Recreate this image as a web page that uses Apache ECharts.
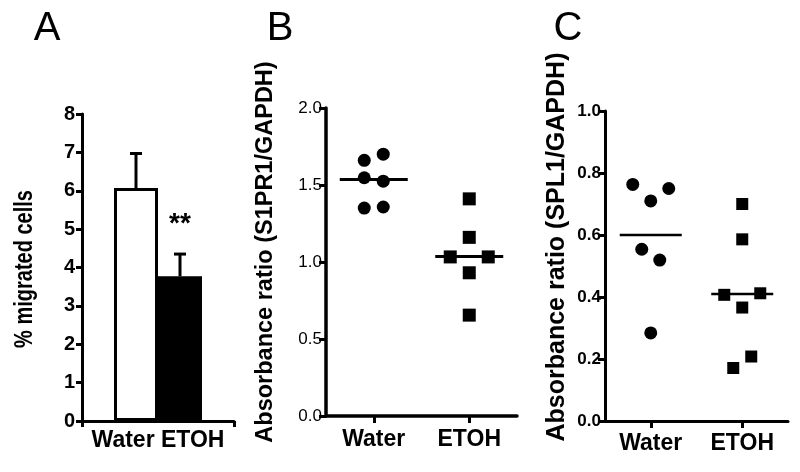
<!DOCTYPE html>
<html>
<head>
<meta charset="utf-8">
<script src="https://cdn.jsdelivr.net/npm/echarts@6/dist/echarts.min.js"></script>
<style>html,body{margin:0;padding:0;background:#fff}#c{width:800px;height:472px}</style>
</head>
<body>
<div id="c"></div>
<script>
// ---- data ----
const categories = ['Water', 'ETOH'];
// Panel A
const meanA = [6.07, 3.77];
const semA = [0.90, 0.58];
const sigA = ['', '**'];
const ticksA = [0, 1, 2, 3, 4, 5, 6, 7, 8];
// Panel B (S1PR1/GAPDH)
const waterB = [1.70, 1.66, 1.547, 1.525, 1.357, 1.35];
const etohB = [1.41, 1.16, 1.033, 1.033, 0.93, 0.655];
const lineB = [1.535, 1.035];
// Panel C (SPL1/GAPDH)
const waterC = [0.763, 0.75, 0.71, 0.554, 0.519, 0.284];
const etohC = [0.70, 0.586, 0.407, 0.412, 0.366, 0.208, 0.171];
const lineC = [0.60, 0.41];
// horizontal spreading of overlapping points (in units of one symbol step)
const spreadWaterB = [1, -1, -1, 1, 1, -1];
const spreadEtohB = [0, 0, -2, 2, 0, 0];
const spreadWaterC = [-2, 2, 0, -1, 1, 0];
const spreadEtohC = [0, 0, -2, 2, 0, 1, -1];

const FONT = '"Liberation Sans", Arial, sans-serif';
const BLACK = '#000';

const chart = echarts.init(document.getElementById('c'), null, {renderer: 'canvas'});

function axisLine(w) { return {show: true, onZero: false, lineStyle: {color: BLACK, width: w, opacity: 1}}; }
function axisTick(len, extra) { return Object.assign({show: true, length: len, lineStyle: {color: BLACK, width: 3, opacity: 1}}, extra || {}); }

const barW = 44;

function pointsData(cat, vals, spread, step) {
  return vals.map((v, i) => ({value: [cat, v], symbolOffset: [spread[i] * step, 0]}));
}

function meanLineSeries(idx, vals, hw, lw) {
  return {
    type: 'custom', xAxisIndex: idx, yAxisIndex: idx, silent: true, z: 5,
    data: vals.map((v, i) => [i, v]),
    renderItem: function (params, api) {
      const p = api.coord([api.value(0), api.value(1)]);
      return {type: 'line', shape: {x1: p[0] - hw, y1: p[1], x2: p[0] + hw, y2: p[1]},
        style: {stroke: BLACK, lineWidth: lw}};
    }
  };
}

function scatter(idx, cat, vals, spread, step, symbol, size) {
  return {type: 'scatter', xAxisIndex: idx, yAxisIndex: idx, symbol: symbol, symbolSize: size, z: 4,
    itemStyle: {color: BLACK, opacity: 1}, data: pointsData(cat, vals, spread, step)};
}

const option = {
  backgroundColor: '#fff',
  animation: false,
  grid: [
    {left: 82, top: 114, width: 152, height: 307},
    {left: 326, top: 108, width: 191, height: 308},
    {left: 605, top: 111, width: 183, height: 310}
  ],
  xAxis: [
    {gridIndex: 0, type: 'category', data: [categories.join(' ')],
      axisLine: axisLine(3), axisTick: axisTick(6),
      axisLabel: {color: BLACK, fontFamily: FONT, fontWeight: 'bold', fontSize: 23, margin: 8}},
    {gridIndex: 1, type: 'category', data: categories,
      axisLine: axisLine(3.5), axisTick: axisTick(7, {alignWithLabel: true}),
      axisLabel: {color: BLACK, fontFamily: FONT, fontWeight: 'bold', fontSize: 23, margin: 12}},
    {gridIndex: 2, type: 'category', data: categories,
      axisLine: axisLine(3), axisTick: axisTick(7, {alignWithLabel: true}),
      axisLabel: {color: BLACK, fontFamily: FONT, fontWeight: 'bold', fontSize: 23, margin: 11}}
  ],
  yAxis: [
    {gridIndex: 0, type: 'value', min: ticksA[0], max: ticksA[ticksA.length - 1], interval: 1,
      axisLine: axisLine(3), axisTick: axisTick(6), splitLine: {show: false},
      axisLabel: {color: BLACK, fontFamily: FONT, fontWeight: 'bold', fontSize: 20, margin: 7}},
    {gridIndex: 1, type: 'value', min: 0, max: 2, interval: 0.5,
      axisLine: axisLine(3.5), axisTick: axisTick(7), splitLine: {show: false},
      axisLabel: {color: BLACK, fontFamily: FONT, fontSize: 17, margin: 4, formatter: v => v.toFixed(1)}},
    {gridIndex: 2, type: 'value', min: 0, max: 1, interval: 0.2,
      axisLine: axisLine(3), axisTick: axisTick(7), splitLine: {show: false},
      axisLabel: {color: BLACK, fontFamily: FONT, fontWeight: 'bold', fontSize: 17, margin: 4, formatter: v => v.toFixed(1)}}
  ],
  graphic: [
    {type: 'text', x: 47, y: 29, style: {text: 'A', font: '40px ' + FONT, fill: BLACK, textAlign: 'center', textVerticalAlign: 'middle'}},
    {type: 'text', x: 280, y: 29, style: {text: 'B', font: '40px ' + FONT, fill: BLACK, textAlign: 'center', textVerticalAlign: 'middle'}},
    {type: 'text', x: 568, y: 29, style: {text: 'C', font: '40px ' + FONT, fill: BLACK, textAlign: 'center', textVerticalAlign: 'middle'}},
    {type: 'text', x: 25, y: 269, rotation: Math.PI / 2, scaleY: 1.3, style: {text: '% migrated cells', font: 'bold 20px ' + FONT, fill: BLACK, textAlign: 'center', textVerticalAlign: 'middle'}},
    {type: 'text', x: 266, y: 252, rotation: Math.PI / 2, style: {text: 'Absorbance ratio (S1PR1/GAPDH)', font: 'bold 23.5px ' + FONT, fill: BLACK, textAlign: 'center', textVerticalAlign: 'middle'}},
    {type: 'text', x: 557, y: 247, rotation: Math.PI / 2, style: {text: 'Absorbance ratio (SPL1/GAPDH)', font: 'bold 25px ' + FONT, fill: BLACK, textAlign: 'center', textVerticalAlign: 'middle'}}
  ],
  series: [
    {name: categories[0], type: 'bar', xAxisIndex: 0, yAxisIndex: 0, data: [meanA[0]], barWidth: barW, barGap: '0%',
      itemStyle: {color: '#fff', borderColor: BLACK, borderWidth: 3}},
    {name: categories[1], type: 'bar', xAxisIndex: 0, yAxisIndex: 0, data: [meanA[1]], barWidth: barW, barGap: '0%',
      itemStyle: {color: BLACK, borderColor: BLACK, borderWidth: 3}},
    {type: 'custom', xAxisIndex: 0, yAxisIndex: 0, silent: true, z: 1,
      data: meanA.map((m, i) => [0, m, m + semA[i]]),
      renderItem: function (params, api) {
        const i = params.dataIndex;
        const off = (i - 0.5) * barW;
        const base = api.coord([0, api.value(1)]);
        const top = api.coord([0, api.value(2)]);
        const x = base[0] + off;
        const children = [
          {type: 'line', shape: {x1: x, y1: base[1], x2: x, y2: top[1]}, style: {stroke: BLACK, lineWidth: 3}},
          {type: 'line', shape: {x1: x - 6, y1: top[1], x2: x + 6, y2: top[1]}, style: {stroke: BLACK, lineWidth: 3}}
        ];
        if (sigA[i]) {
          children.push({type: 'text', x: x, y: top[1] - 30,
            style: {text: sigA[i], font: 'bold 28px ' + FONT, fill: BLACK, textAlign: 'center', textVerticalAlign: 'middle'}});
        }
        return {type: 'group', children: children};
      }},
    scatter(1, 0, waterB, spreadWaterB, 9.5, 'circle', 13),
    scatter(1, 1, etohB, spreadEtohB, 9.5, 'rect', 13),
    meanLineSeries(1, lineB, 34, 3),
    scatter(2, 0, waterC, spreadWaterC, 9, 'circle', 13),
    scatter(2, 1, etohC, spreadEtohC, 9, 'rect', 12),
    meanLineSeries(2, lineC, 31, 2.5)
  ]
};
chart.setOption(option);
</script>
</body>
</html>
